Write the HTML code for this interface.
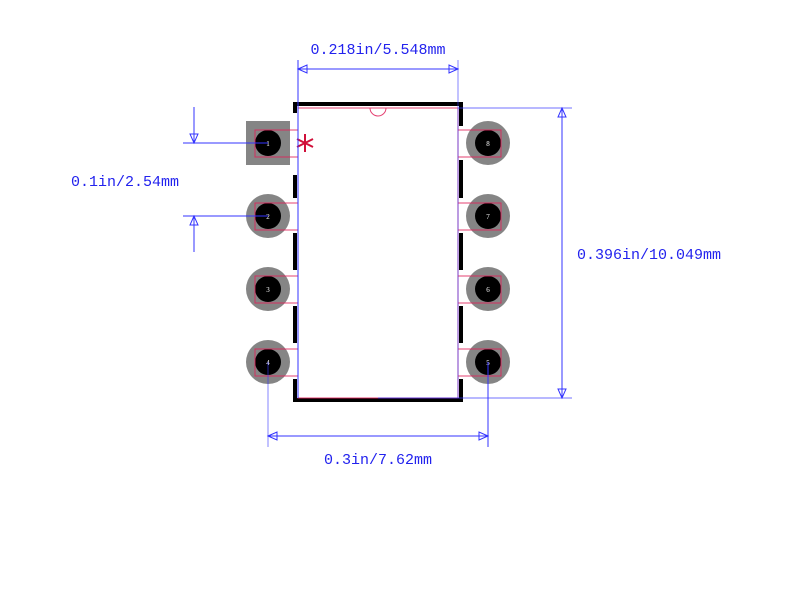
<!DOCTYPE html>
<html><head><style>body{margin:0;background:#fff}svg{display:block}</style></head><body>
<svg width="800" height="605" xmlns="http://www.w3.org/2000/svg" font-family="Liberation Serif, serif">
<rect width="800" height="605" fill="#fff"/>
<g stroke="#000" stroke-width="4" fill="none">
<path d="M295 113 V104 H461 V126"/>
<line x1="295" y1="175" x2="295" y2="198"/>
<line x1="295" y1="233" x2="295" y2="270"/>
<line x1="295" y1="306" x2="295" y2="343"/>
<path d="M295 379 V400 H461 V379"/>
<line x1="461" y1="160" x2="461" y2="198"/>
<line x1="461" y1="233" x2="461" y2="270"/>
<line x1="461" y1="306" x2="461" y2="343"/>
</g>
<rect x="246" y="121" width="44" height="44" fill="#858585"/>
<g fill="#858585">
<circle cx="268" cy="216" r="22"/><circle cx="268" cy="289" r="22"/><circle cx="268" cy="362" r="22"/>
<circle cx="488" cy="143" r="22"/><circle cx="488" cy="216" r="22"/><circle cx="488" cy="289" r="22"/><circle cx="488" cy="362" r="22"/>
</g>
<g fill="#000">
<circle cx="268" cy="143" r="13"/><circle cx="268" cy="216" r="13"/><circle cx="268" cy="289" r="13"/><circle cx="268" cy="362" r="13"/>
<circle cx="488" cy="143" r="13"/><circle cx="488" cy="216" r="13"/><circle cx="488" cy="289" r="13"/><circle cx="488" cy="362" r="13"/>
</g>
<g stroke="#e0205a" stroke-width="1" fill="none" opacity="0.85">
<rect x="298" y="108" width="160" height="290"/>
<path d="M370 108 A8 8 0 0 0 386 108"/>
<rect x="255" y="130" width="43" height="27"/><rect x="255" y="203" width="43" height="27"/><rect x="255" y="276" width="43" height="27"/><rect x="255" y="349" width="43" height="27"/>
<rect x="458" y="130" width="43" height="27"/><rect x="458" y="203" width="43" height="27"/><rect x="458" y="276" width="43" height="27"/><rect x="458" y="349" width="43" height="27"/>
</g>
<g fill="#fff" font-size="7" text-anchor="middle">
<text x="268" y="146">1</text><text x="268" y="219">2</text><text x="268" y="292">3</text><text x="268" y="365">4</text>
<text x="488" y="146">8</text><text x="488" y="219">7</text><text x="488" y="292">6</text><text x="488" y="365">5</text>
</g>
<g stroke="#d0103a" stroke-width="2">
<line x1="305" y1="134" x2="305" y2="152"/>
<line x1="297" y1="139" x2="313" y2="147"/>
<line x1="297" y1="147" x2="313" y2="139"/>
</g>
<g stroke="#3333ff" stroke-width="1" fill="none">
<line x1="298" y1="60" x2="298" y2="398"/>
<line x1="458" y1="60" x2="458" y2="398" stroke-opacity="0.6"/>
<line x1="298" y1="69" x2="458" y2="69"/>
<path d="M298 69 l9 -4 v8 z M458 69 l-9 -4 v8 z"/>
<line x1="458" y1="108" x2="572" y2="108" stroke-opacity="0.7"/>
<line x1="378" y1="398" x2="572" y2="398" stroke-opacity="0.7"/>
<line x1="562" y1="108" x2="562" y2="398"/>
<path d="M562 108 l-4 9 h8 z M562 398 l-4 -9 h8 z"/>
<line x1="183" y1="143" x2="268" y2="143"/>
<line x1="183" y1="216" x2="268" y2="216"/>
<line x1="194" y1="107" x2="194" y2="143"/>
<line x1="194" y1="216" x2="194" y2="252"/>
<path d="M194 143 l-4 -9 h8 z M194 216 l-4 9 h8 z"/>
<line x1="268" y1="362" x2="268" y2="447" stroke-opacity="0.6"/>
<line x1="488" y1="362" x2="488" y2="447"/>
<line x1="268" y1="436" x2="488" y2="436"/>
<path d="M268 436 l9 -4 v8 z M488 436 l-9 -4 v8 z"/>
</g>
<g fill="#2222ee" font-size="15" text-anchor="middle" font-family="Liberation Mono, monospace">
<text x="378" y="54">0.218in/5.548mm</text>
<text x="649" y="259">0.396in/10.049mm</text>
<text x="125" y="186">0.1in/2.54mm</text>
<text x="378" y="464">0.3in/7.62mm</text>
</g>
</svg>
</body></html>
